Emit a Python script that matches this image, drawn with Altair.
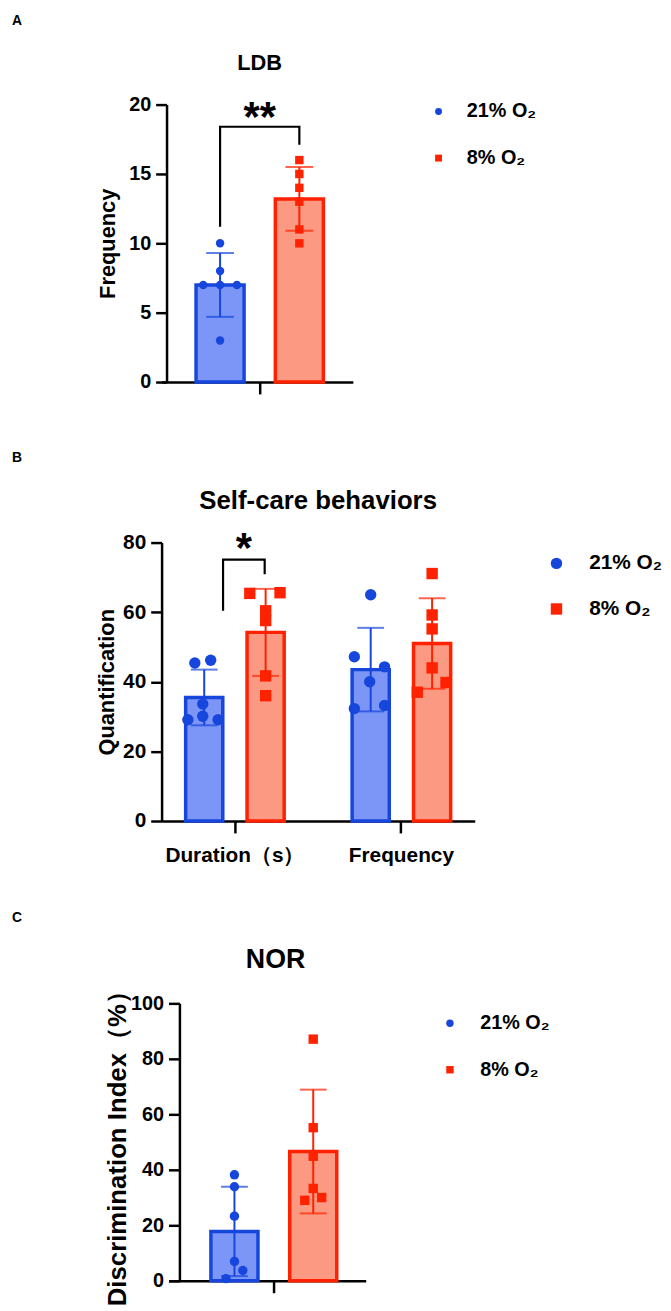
import altair as alt
import pandas as pd

FONT = "Liberation Sans"
GROUPS = ["21% O₂", "8% O₂"]
DARK = ["#1646dc", "#ff2200"]
LIGHT = ["#7b96f6", "#fc9982"]
SHAPES = ["circle", "square"]

# ---------------- Panel A : LDB ----------------
A_CATS = ["LDB"]
A_MEAN_21 = [7.0]
A_SD_21 = [2.3]
A_MEAN_8 = [13.2]
A_SD_8 = [2.3]
A_PTS_21 = [[10, 8, 7, 7, 7, 3]]
A_JIT_21 = [[0, 0, -17, 0, 17, 0]]
A_PTS_8 = [[16, 15, 14, 13, 11, 10]]
A_JIT_8 = [[0, 0, 0, 0, 0, 0]]
A_YTICKS = [0, 5, 10, 15, 20]
A_BRACKET_Y = [11.2, 18.4, 18.4, 17.1]
A_STAR_Y = 19.6

# ---------------- Panel B : Self-care behaviors ----------------
B_CATS = ["Duration（s）", "Frequency"]
B_MEAN_21 = [35.5, 43.5]
B_SD_21 = [8.0, 12.0]
B_MEAN_8 = [54.2, 51.0]
B_SD_8 = [12.5, 13.0]
B_PTS_21 = [[45.4, 46.2, 33.6, 29.1, 30.1, 29.1], [65.0, 47.2, 44.3, 40.0, 32.3, 33.2]]
B_JIT_21 = [[-9.5, 6.5, -1.5, -16.5, -1.5, 14], [0, -16.5, 14, -1, -16.5, 14]]
B_PTS_8 = [[65.4, 65.6, 60.4, 57.6, 41.7, 36.0], [71.1, 59.2, 55.2, 44.0, 39.8, 37.0]]
B_JIT_8 = [[-16, 14.5, 0, 0, 0, 0], [0, 0, 0, 0, 14, -15]]
B_YTICKS = [0, 20, 40, 60, 80]
B_BRACKET_Y = [60.4, 75.1, 75.1, 70.9]
B_STAR_Y = 80.3

# ---------------- Panel C : NOR ----------------
C_CATS = ["NOR"]
C_MEAN_21 = [17.8]
C_SD_21 = [16.1]
C_MEAN_8 = [46.6]
C_SD_8 = [22.3]
C_PTS_21 = [[38.2, 33.9, 23.3, 7.0, 3.7, 0.8]]
C_JIT_21 = [[0, 0, 0, 0, 8.5, -8.5]]
C_PTS_8 = [[87.1, 55.2, 44.9, 33.3, 29.0, 30.0]]
C_JIT_8 = [[0, 0, 0, 0, -8.5, 8.5]]
C_YTICKS = [0, 20, 40, 60, 80, 100]


def tables(cats, m21, s21, m8, s8, p21, j21, p8, j8):
    bar_rows, pt_rows = [], []
    for g, side, ms, ss, ps, js in ((GROUPS[0], -1, m21, s21, p21, j21),
                                    (GROUPS[1], 1, m8, s8, p8, j8)):
        for c, m, s, vals, jit in zip(cats, ms, ss, ps, js):
            bar_rows.append({"cat": c, "group": g, "mean": m, "sd": s})
            for v, j in zip(vals, jit):
                pt_rows.append({"cat": c, "group": g, "side": side, "value": v, "jit": j})
    return pd.DataFrame(bar_rows), pd.DataFrame(pt_rows)


def panel(cfg):
    bars, pts = cfg["tables"]
    W, H, bw = cfg["W"], cfg["H"], cfg["bw"]
    cats = cfg["cats"]

    xscale = alt.Scale(domain=cats, paddingInner=cfg["pi"], paddingOuter=cfg["po"], align=cfg["al"])
    xkw = dict(title=None, labels=cfg["xlabels"], ticks=True, tickSize=12, tickWidth=2.5,
               tickColor="black", domainColor="black", domainWidth=2.5, grid=False,
               labelAngle=0, labelFont=FONT, labelFontSize=cfg["xls"], labelFontWeight="bold",
               labelColor="black", labelPadding=12)
    if cfg["yoff"] < -8:
        xkw["domainDash"] = [0, -cfg["yoff"] - 11, 2000, 0]
    X = alt.X("cat:N", scale=xscale, axis=alt.Axis(**xkw))
    ykw = dict(title=cfg["ytitle"], values=cfg["yticks"], tickSize=11, tickWidth=2.5,
               tickColor="black", domainColor="black", domainWidth=2.5, grid=False,
               labelFont=FONT, labelFontSize=cfg["yls"], labelFontWeight="bold",
               labelColor="black", labelPadding=5, titleFont=FONT, titleFontSize=cfg["yts"],
               titleFontWeight="bold", titleColor="black", titlePadding=cfg["tpad"])
    if cfg["yoff"]:
        ykw["offset"] = cfg["yoff"]
    ykw.update(cfg.get("yextra", {}))
    yaxis = alt.Axis(**ykw)
    yscale = alt.Scale(domain=cfg["ydom"], nice=False)

    band_off = alt.XOffset("group:N", scale=alt.Scale(domain=GROUPS, paddingInner=cfg["q"], paddingOuter=0))
    quant_off = alt.XOffset("pos:Q", scale=alt.Scale(domain=[-bw / 2, bw / 2], range=[0, bw]))

    leg = alt.Legend(orient="none", legendX=cfg["lx"], legendY=cfg["ly"], title=None,
                     labelFont=FONT, labelFontSize=cfg["lfs"], labelFontWeight="bold", labelColor="black",
                     symbolSize=cfg["ss"], symbolStrokeWidth=0, rowPadding=cfg["rp"],
                     labelOffset=cfg["lo"], padding=0, symbolOpacity=1)

    layers = []
    err = alt.Chart(bars).transform_calculate(lo="datum.mean - datum.sd", hi="datum.mean + datum.sd")
    for gi, g in enumerate(GROUPS):
        layers.append(alt.Chart(bars).transform_filter(alt.datum.group == g).mark_bar(
            fill=LIGHT[gi], stroke=DARK[gi], strokeWidth=3.5).encode(
            x=X, xOffset=band_off, y=alt.Y("mean:Q", scale=yscale, axis=yaxis)))
    for gi, g in enumerate(GROUPS):
        eg = err.transform_filter(alt.datum.group == g)
        layers.append(eg.mark_rule(strokeWidth=2, color=DARK[gi]).encode(
            x=X, xOffset=band_off, y=alt.Y("lo:Q", scale=yscale, axis=yaxis), y2="hi:Q"))
        for f in ("hi", "lo"):
            layers.append(eg.mark_tick(size=cfg["cap"], thickness=2, orient="horizontal", color=DARK[gi]).encode(
                x=X, xOffset=band_off, y=alt.Y(f"{f}:Q", scale=yscale, axis=yaxis)))

    layers.append(alt.Chart(pts).transform_calculate(
        pos=f"datum.side * {cfg['half']} + datum.jit"
    ).mark_point(filled=True, size=cfg["ps"], opacity=1).encode(
        x=X, xOffset=quant_off,
        y=alt.Y("value:Q", scale=yscale, axis=yaxis),
        color=alt.Color("group:N", scale=alt.Scale(domain=GROUPS, range=DARK), legend=leg),
        shape=alt.Shape("group:N", scale=alt.Scale(domain=GROUPS, range=SHAPES), legend=leg),
    ))

    if cfg.get("bracket"):
        bx, by, star, sx, sy = cfg["bracket"]
        bdf = pd.DataFrame({"cat": [cats[0]] * 4, "pos": bx, "value": by, "k": [0, 1, 2, 3]})
        layers.append(alt.Chart(bdf).mark_line(color="black", strokeWidth=2.2, strokeJoin="miter").encode(
            x=X, xOffset=quant_off, y=alt.Y("value:Q", scale=yscale, axis=yaxis), order="k:Q"))
        sdf = pd.DataFrame({"cat": [cats[0]], "pos": [sx], "value": [sy], "t": [star]})
        layers.append(alt.Chart(sdf).mark_text(font=FONT, fontSize=42, fontWeight="bold", color="black",
                                               baseline="middle", dy=8).encode(
            x=X, xOffset=quant_off, y=alt.Y("value:Q", scale=yscale, axis=yaxis), text="t:N"))

    letter = alt.Chart(pd.DataFrame({"t": [cfg["letter"]]})).mark_text(
        font=FONT, fontSize=14, fontWeight="bold", color="black", align="left", baseline="middle"
    ).encode(x=alt.value(-151), y=alt.value(cfg["letter_y"]), text="t:N")
    title = alt.Chart(pd.DataFrame({"t": [cfg["title"]]})).mark_text(
        font=FONT, fontSize=cfg["title_size"], fontWeight="bold", color="black", align="center", baseline="middle"
    ).encode(x=alt.value(cfg["title_x"]), y=alt.value(cfg["title_y"]), text="t:N")
    layers += [letter, title]
    if cfg.get("spacer"):
        layers.append(alt.Chart(pd.DataFrame({"t": ["."]})).mark_text(
            fontSize=10, opacity=0, baseline="top").encode(
            x=alt.value(0), y=alt.value(H + cfg["spacer"]), text="t:N"))

    return alt.layer(*layers).resolve_scale(xOffset="independent").properties(width=W, height=H)


# all three plot areas start at the same x; the y axes of A and C are shifted inward
A = panel(dict(
    tables=tables(A_CATS, A_MEAN_21, A_SD_21, A_MEAN_8, A_SD_8, A_PTS_21, A_JIT_21, A_PTS_8, A_JIT_8),
    cats=A_CATS, W=193, H=280, bw=128.5, pi=0, po=0.251, al=0.539, q=0.394, half=40, cap=28, ps=72,
    yoff=-5, xlabels=False, xls=20, yls=20, yts=22, ytitle="Frequency", yticks=A_YTICKS, ydom=[0, 20], tpad=9,
    lx=269.5, ly=-3, ss=49, rp=27, lo=18.5, lfs=20,
    bracket=([-40, -40, 40, 40], A_BRACKET_Y, "**", 0, A_STAR_Y),
    letter="A", letter_y=-84, title="LDB", title_size=22, title_x=99, title_y=-42, spacer=13.5,
))

B = panel(dict(
    tables=tables(B_CATS, B_MEAN_21, B_SD_21, B_MEAN_8, B_SD_8, B_PTS_21, B_JIT_21, B_PTS_8, B_JIT_8),
    cats=B_CATS, W=316, H=281, bw=99.5, pi=0.408, po=0.1445, al=0.5, q=0.395, half=31, cap=27, ps=132,
    yoff=0, xlabels=True, xls=21, yls=21, yts=22, ytitle="Quantification", yticks=B_YTICKS, ydom=[0, 80], tpad=4,
    lx=388, ly=10.5, ss=132, rp=24, lo=22.5, lfs=21,
    bracket=([-12, -12, 30, 30], B_BRACKET_Y, "*", 9, B_STAR_Y),
    letter="B", letter_y=-85, title="Self-care behaviors", title_size=26, title_x=158, title_y=-42,
))

C = panel(dict(
    tables=tables(C_CATS, C_MEAN_21, C_SD_21, C_MEAN_8, C_SD_8, C_PTS_21, C_JIT_21, C_PTS_8, C_JIT_8),
    cats=C_CATS, W=206, H=280, bw=127, pi=0, po=0.311, al=0.63, q=0.4025, half=39.75, cap=27, ps=90,
    yoff=-18, xlabels=False, xls=20, yls=20, yts=26, ytitle="Discrimination Index（%）", yticks=C_YTICKS,
    ydom=[0, 100], tpad=0, yextra=dict(titleAlign="right", titleY=-26),
    lx=281, ly=10, ss=56, rp=27, lo=20.5, lfs=20,
    letter="C", letter_y=-86, title="NOR", title_size=27, title_x=115, title_y=-44,
))

chart = alt.vconcat(A, B, C, spacing=46).resolve_scale(
    color="independent", shape="independent"
).resolve_legend(color="independent", shape="independent").properties(
    padding={"left": 4, "top": 0.5, "right": 0, "bottom": 0}
).configure_view(stroke=None)

chart.save("out.html", embed_options={"renderer": "svg", "actions": False})
